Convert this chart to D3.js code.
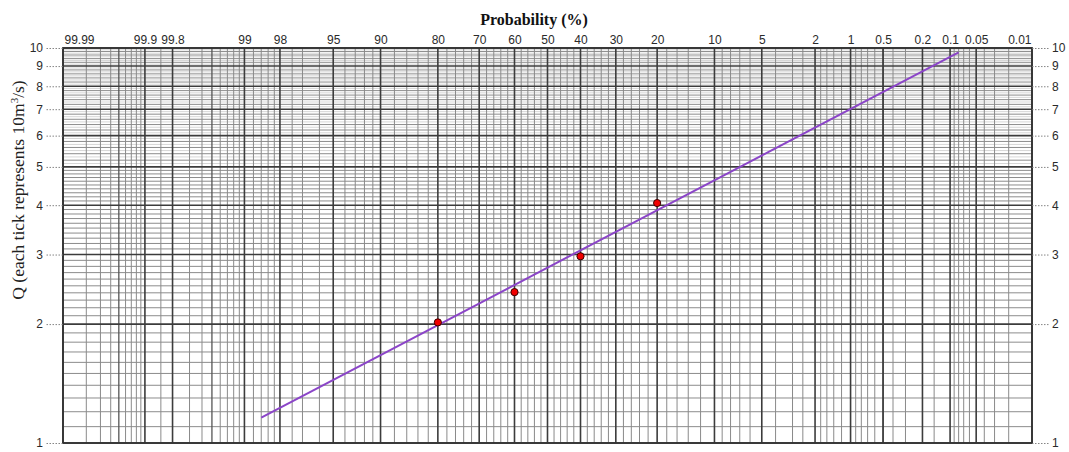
<!DOCTYPE html>
<html>
<head>
<meta charset="utf-8">
<script src="https://cdn.jsdelivr.net/npm/d3@7"></script>
<style>
  html, body { margin: 0; padding: 0; background: #fff; }
  svg { display: block; }
</style>
</head>
<body>
<svg id="chart" width="1069" height="452"></svg>
<script>
// ---- data ----
const probLabels = [99.99, 99.9, 99.8, 99, 98, 95, 90, 80, 70, 60, 50, 40, 30, 20, 10, 5, 2, 1, 0.5, 0.2, 0.1, 0.05, 0.01];
const probMedium = [99.95, 99.5, 0.5];
const probMinorLeft = [99.98, 99.97, 99.96, 99.94, 99.93, 99.92, 99.91, 99.85, 99.7, 99.6, 99.4, 99.3, 99.2, 99.1,
  98.8, 98.6, 98.4, 98.2, 97.5, 97, 96, 94, 93, 92, 91, 88, 86, 84, 82, 78, 76, 74, 72, 68, 66, 64, 62, 58, 56, 54, 52];
const qTicks = [1, 2, 3, 4, 5, 6, 7, 8, 9, 10];
const pointP = [80, 60, 40, 20];
const pointQ = [2.02, 2.41, 2.97, 4.05];
const lineP = [98.6, 0.08];
const lineQ = [1.16, 9.75];

// ---- normal quantile (Acklam) ----
function invNorm(p) {
  const a = [-3.969683028665376e+01, 2.209460984245205e+02, -2.759285104469687e+02, 1.383577518672690e+02, -3.066479806614716e+01, 2.506628277459239e+00];
  const b = [-5.447609879822406e+01, 1.615858368580409e+02, -1.556989798598866e+02, 6.680131188771972e+01, -1.328068155288924e+01];
  const c = [-7.784894002430293e-03, -3.223964580411365e-01, -2.400758277161838e+00, -2.549732539343734e+00, 4.374664141464968e+00, 2.938163982698783e+00];
  const d = [7.784695709041462e-03, 3.224671290700398e-01, 2.445134137142996e+00, 3.754408372898424e+00];
  const plow = 0.02425, phigh = 1 - plow;
  let q, r;
  if (p < plow) {
    q = Math.sqrt(-2 * Math.log(p));
    return (((((c[0]*q+c[1])*q+c[2])*q+c[3])*q+c[4])*q+c[5]) / ((((d[0]*q+d[1])*q+d[2])*q+d[3])*q+1);
  } else if (p <= phigh) {
    q = p - 0.5; r = q*q;
    return (((((a[0]*r+a[1])*r+a[2])*r+a[3])*r+a[4])*r+a[5])*q / (((((b[0]*r+b[1])*r+b[2])*r+b[3])*r+b[4])*r+1);
  } else {
    q = Math.sqrt(-2 * Math.log(1 - p));
    return -(((((c[0]*q+c[1])*q+c[2])*q+c[3])*q+c[4])*q+c[5]) / ((((d[0]*q+d[1])*q+d[2])*q+d[3])*q+1);
  }
}
const toZ = p => invNorm(1 - p / 100);

// ---- layout ----
const L = 63, R = 1032, T = 48, B = 443;
const zMax = toZ(0.01);
const xz = d3.scaleLinear().domain([-zMax, zMax]).range([L, R]);
const xp = p => xz(toZ(p));
const y = d3.scaleLog().domain([1, 10]).range([B, T]);

const svg = d3.select("#chart");
svg.append("rect").attr("width", 1069).attr("height", 452).attr("fill", "#fff");

const grid = svg.append("g");

// horizontal minor grid
const qFine = d3.range(5.1, 10, 0.1).filter(v => Math.abs(v - Math.round(v)) > 1e-6 && Math.abs(v * 5 - Math.round(v * 5)) > 1e-6);
const qMinor = d3.range(1.1, 5.0001, 0.1).concat(d3.range(5.2, 10, 0.2)).filter(v => Math.abs(v - Math.round(v)) > 1e-6);
grid.selectAll("line.hf").data(qFine).join("line")
  .attr("x1", L).attr("x2", R).attr("y1", d => y(d)).attr("y2", d => y(d))
  .attr("stroke", "#c4c4c4").attr("stroke-width", 0.7);
grid.selectAll("line.hm").data(qMinor).join("line")
  .attr("x1", L).attr("x2", R).attr("y1", d => y(d)).attr("y2", d => y(d))
  .attr("stroke", "#8c8c8c").attr("stroke-width", 1);

// vertical minor grid
const probMinor = probMinorLeft.concat(probMinorLeft.map(p => +(100 - p).toFixed(2)));
grid.selectAll("line.vm").data(probMinor).join("line")
  .attr("x1", d => xp(d)).attr("x2", d => xp(d)).attr("y1", T).attr("y2", B)
  .attr("stroke", "#8a8a8a").attr("stroke-width", 1);
grid.selectAll("line.vmed").data(probMedium).join("line")
  .attr("x1", d => xp(d)).attr("x2", d => xp(d)).attr("y1", T).attr("y2", B)
  .attr("stroke", "#555").attr("stroke-width", 1.3);
// vertical major grid
grid.selectAll("line.vM").data(probLabels).join("line")
  .attr("x1", d => xp(d)).attr("x2", d => xp(d)).attr("y1", T).attr("y2", B)
  .attr("stroke", "#3c3c3c").attr("stroke-width", 1.6);
// horizontal major grid
grid.selectAll("line.hM").data(qTicks).join("line")
  .attr("x1", L).attr("x2", R).attr("y1", d => y(d)).attr("y2", d => y(d))
  .attr("stroke", "#3c3c3c").attr("stroke-width", 1.6);

// frame
svg.append("rect").attr("x", L).attr("y", T).attr("width", R - L).attr("height", B - T)
  .attr("fill", "none").attr("stroke", "#333").attr("stroke-width", 1.8);

// ---- axes ----
const topAxis = svg.append("g").attr("transform", `translate(0,${T})`)
  .call(d3.axisTop(xz).tickValues(probLabels.map(toZ)).tickFormat((d, i) => String(probLabels[i])).tickSize(0).tickPadding(4));
topAxis.select(".domain").remove();
topAxis.selectAll("text").attr("font-family", "Liberation Sans, Arial, sans-serif").attr("font-size", 12).attr("fill", "#2a2a2a");
topAxis.selectAll(".tick").filter((d, i) => i === 0).select("text").attr("text-anchor", "start").attr("dx", 1);
topAxis.selectAll(".tick").filter((d, i) => i === probLabels.length - 1).select("text").attr("text-anchor", "end").attr("dx", -1);

function styleY(g) {
  g.select(".domain").remove();
  g.selectAll("line").attr("stroke", "#777").attr("stroke-dasharray", "1.5,1.5").attr("stroke-width", 0.9);
  g.selectAll("text").attr("font-family", "Liberation Sans, Arial, sans-serif").attr("font-size", 12).attr("fill", "#2a2a2a");
}
svg.append("g").attr("transform", `translate(${L},0)`)
  .call(d3.axisLeft(y).tickValues(qTicks).tickFormat(d3.format("d")).tickSize(18).tickPadding(2))
  .call(styleY);
svg.append("g").attr("transform", `translate(${R},0)`)
  .call(d3.axisRight(y).tickValues(qTicks).tickFormat(d3.format("d")).tickSize(18).tickPadding(2))
  .call(styleY);

// ---- titles ----
svg.append("text").attr("x", 534).attr("y", 25).attr("text-anchor", "middle")
  .attr("font-family", "Liberation Serif, Times New Roman, serif").attr("font-weight", "bold").attr("font-size", 16)
  .attr("fill", "#111").text("Probability (%)");

const yt = svg.append("text").attr("transform", "translate(24,190) rotate(-90)").attr("text-anchor", "middle")
  .attr("font-family", "Liberation Serif, Times New Roman, serif").attr("font-size", 17.5).attr("fill", "#222");
yt.append("tspan").text("Q (each tick represents 10m");
yt.append("tspan").attr("dy", -6).attr("font-size", 11).text("3");
yt.append("tspan").attr("dy", 6).text("/s)");

// ---- fitted line ----
const lineData = lineP.map((p, i) => [p, lineQ[i]]);
svg.append("path").datum(lineData)
  .attr("d", d3.line().x(d => xp(d[0])).y(d => y(d[1])))
  .attr("fill", "none").attr("stroke", "#8b45c8").attr("stroke-width", 2);

// ---- points ----
svg.selectAll("circle.pt").data(pointP.map((p, i) => [p, pointQ[i]])).join("circle")
  .attr("cx", d => xp(d[0])).attr("cy", d => y(d[1])).attr("r", 3.6)
  .attr("fill", "#f00000").attr("stroke", "#3a0000").attr("stroke-width", 1);
</script>
</body>
</html>
